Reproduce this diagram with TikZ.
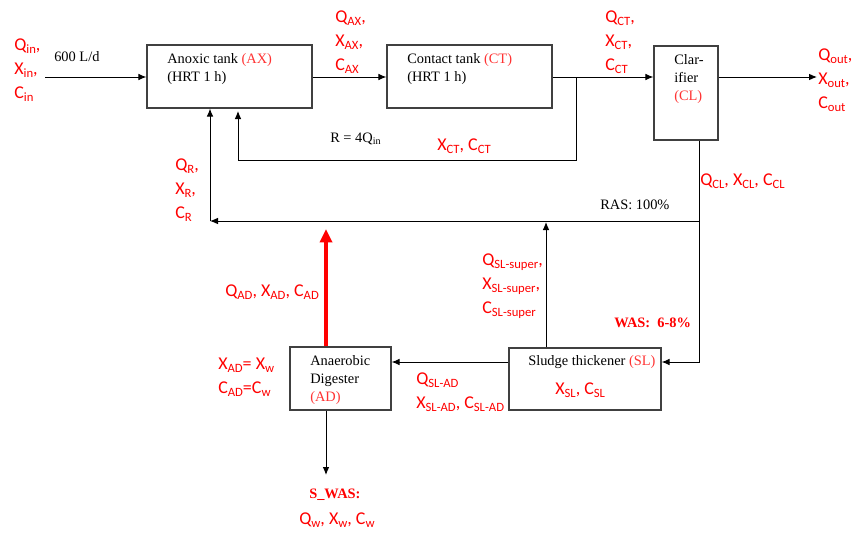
\documentclass[tikz,border=0pt]{standalone}
\usepackage{fontspec}
\setmainfont{Liberation Serif}
\newfontfamily\calfont{Carlito}
\usetikzlibrary{arrows.meta}
\newcommand\lo[1]{\raisebox{-0.4ex}{\fontsize{9.5}{9.5}\selectfont #1}}
\begin{document}
\begin{tikzpicture}[x=0.75pt,y=-0.75pt,
  box/.style={draw=black!75, line width=0.9pt, inner sep=0},
  txt/.style={font=\fontsize{10.8}{13.5}\selectfont, align=left, inner sep=0, anchor=west},
  lbl/.style={text=red, font=\calfont\fontsize{13.5}{18}\selectfont, align=left, inner sep=0, anchor=west},
  flow/.style={line width=0.75pt, -{Latex[length=6pt,width=5pt]}},
  plain/.style={line width=0.75pt}]
\useasboundingbox (0,0) rectangle (852,532);
% boxes
\node[box, minimum width=123.75pt, minimum height=47.25pt] (ax) at (229.5,76.5) {};
\node[box, minimum width=123.75pt, minimum height=47.25pt] (ct) at (469.5,76.5) {};
\node[box, minimum width=48pt, minimum height=70.5pt] (cl) at (686,93) {};
\node[box, minimum width=114pt, minimum height=46.5pt] (sl) at (585,379) {};
\node[box, minimum width=75.75pt, minimum height=47.25pt] (ad) at (340.5,378.5) {};
% box texts
\node[txt] (axt) at (167,69) {Anoxic tank \textcolor{red!80}{(AX)}\\(HRT 1 h)};
\node[txt] (ctt) at (407,69) {Contact tank \textcolor{red!80}{(CT)}\\(HRT 1 h)};
\node[txt] (clt) at (674,79) {Clar-\\ifier\\\textcolor{red!80}{(CL)}};
\node[txt] (slt) at (528,362) {Sludge thickener \textcolor{red!80}{(SL)}};
\node[txt] (adt) at (310,380) {Anaerobic\\Digester\\\textcolor{red!80}{(AD)}};
% coordinates
\coordinate (in) at (45,77);
\coordinate (out) at (817,77);
\coordinate (b1) at (576,77);
\coordinate (r1) at (238,160);
\coordinate (r2) at (238,111);
\coordinate (c1) at (699,362);
\coordinate (ras1) at (699,221);
\coordinate (ras2) at (210,221);
\coordinate (s1) at (546,222);
\coordinate (a1) at (326,229);
\coordinate (a2) at (326,475);
% connectors
\draw[flow] (in) -- (ax.west |- in);
\draw[flow] (ax.east |- in) -- (ct.west |- in);
\draw[flow] (ct.east |- in) -- (cl.west |- in);
\draw[flow] (cl.east |- in) -- (out);
\draw[flow] (b1) |- (r1) -- (r2);
\draw[flow] (c1 |- cl.south) -- (c1) -- (sl.east |- c1);
\draw[flow] (ras1) -- (ras2);
\draw[flow] (ras2) -- (ras2 |- ax.south);
\draw[flow] (s1 |- sl.north) -- (s1);
\draw[red, line width=3pt, -{Triangle[length=10pt,width=9pt]}] (a1 |- ad.north) -- (a1);
\draw[flow] (sl.west |- c1) -- (ad.east |- c1);
\draw[flow] (a2 |- ad.south) -- (a2);
% labels
\node[lbl] (lin) at (14,70) {Q\lo{in},\\X\lo{in},\\C\lo{in}};
\node[txt] (flowin) at (54,57) {600 L/d};
\node[lbl] (lax) at (335,42) {Q\lo{AX},\\X\lo{AX},\\C\lo{AX}};
\node[lbl] (lct) at (605,42) {Q\lo{CT},\\X\lo{CT},\\C\lo{CT}};
\node[lbl] (lout) at (818,80) {Q\lo{out},\\X\lo{out},\\C\lo{out}};
\node[txt] (rr) at (330,139) {R = 4Q\textsubscript{in}};
\node[lbl] (lxct) at (437,146) {X\lo{CT}, C\lo{CT}};
\node[lbl] (lcl) at (700,181) {Q\lo{CL}, X\lo{CL}, C\lo{CL}};
\node[txt] (ras) at (600,205) {RAS: 100\%};
\node[lbl] (lr) at (175,190) {Q\lo{R},\\X\lo{R},\\C\lo{R}};
\node[lbl] (lsup) at (482,286) {Q\lo{SL-super},\\X\lo{SL-super},\\C\lo{SL-super}};
\node[lbl] (lad) at (225,292) {Q\lo{AD}, X\lo{AD}, C\lo{AD}};
\node[txt, text=red, font=\bfseries\fontsize{10.8}{13}\selectfont] (was) at (614,323) {WAS:\ \ 6-8\%};
\node[lbl] (ladw) at (218,377) {X\lo{AD}= X\lo{w}\\C\lo{AD}=C\lo{w}};
\node[lbl] (lsl) at (555,390) {X\lo{SL}, C\lo{SL}};
\node[lbl] (lslad) at (416,392) {Q\lo{SL-AD}\\X\lo{SL-AD}, C\lo{SL-AD}};
\node[txt, text=red, font=\bfseries\fontsize{10.8}{13}\selectfont] (swas) at (309,495) {S\_WAS:};
\node[lbl] (lw) at (299,520) {Q\lo{w}, X\lo{w}, C\lo{w}};
\end{tikzpicture}
\end{document}
